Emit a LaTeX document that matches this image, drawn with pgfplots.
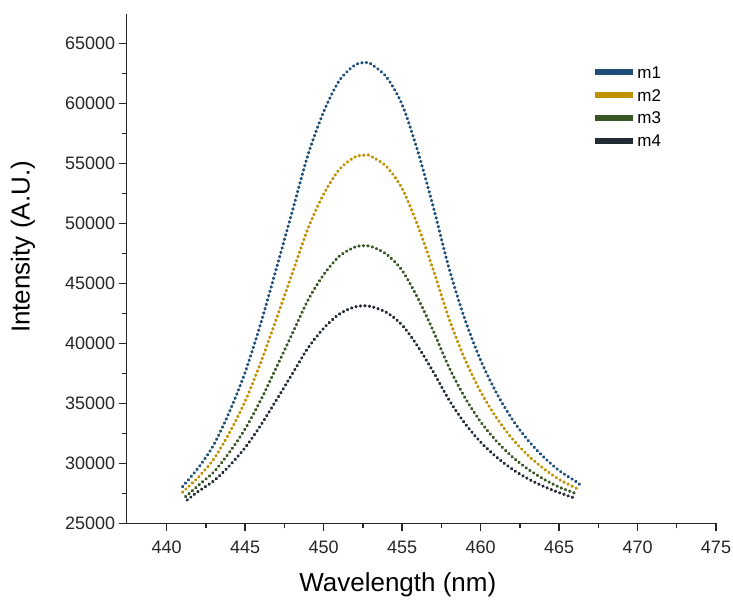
\documentclass[border=0pt]{standalone}
\usepackage{pgfplots}
\pgfplotsset{compat=1.18}
\usepackage{fontspec}
\setmainfont{Liberation Sans}

\definecolor{cA}{HTML}{1F4E79}
\definecolor{cB}{HTML}{BF9000}
\definecolor{cC}{HTML}{375623}
\definecolor{cD}{HTML}{222A35}

\tikzset{dotcurve/.style={line width=3.2bp, line cap=round, dash pattern=on 0.4bp off 4.1bp}}

\begin{document}
\begin{tikzpicture}
\begin{axis}[
  at={(0,0)}, anchor=south west,
  scale only axis, width=589.3bp, height=509.3bp,
  xmin=437.45, xmax=475, ymin=25000, ymax=67450,
  axis lines=left,
  axis line style={-, line width=1.4bp, color=black!85},
  xtick={440,445,...,475}, ytick={25000,30000,...,65000},
  minor x tick num=1, minor y tick num=1,
  tick align=outside, major tick length=8bp, minor tick length=5bp,
  tick style={line width=1.4bp, color=black!85},
  ticklabel style={font=\fontsize{18bp}{20bp}\selectfont, text=black!85},
  xticklabel style={yshift=-6bp},
  /pgf/number format/assume math mode=true,
  /pgf/number format/1000 sep={},
  scaled y ticks=false,
  xlabel={Wavelength (nm)}, ylabel={Intensity (A.U.)},
  every axis x label/.style={at={(axis description cs:0.46,-0.121)}, anchor=center,
    font=\fontsize{26bp}{30bp}\selectfont},
  every axis y label/.style={at={(axis description cs:-0.176,0.5425)}, anchor=center, rotate=90,
    font=\fontsize{26bp}{30bp}\selectfont},
  legend style={at={(axis description cs:0.79,0.90)}, anchor=north west,
    draw=none, fill=none, inner sep=0pt,
    font=\fontsize{17bp}{19bp}\selectfont,
    nodes={inner sep=1bp, text height=12bp, text depth=0bp},
    row sep=8.9bp,
    /tikz/every even column/.append style={column sep=3bp}},
  legend cell align=left,
  legend image code/.code={\draw[#1, solid, line width=6bp, line cap=butt] (0bp,0bp) -- (38bp,0bp);},
]
\addplot[cA, dotcurve, smooth] coordinates {
(441,28050) (442,29600) (443,31550) (444,34300) (445,37600) (446,41700)
(447,46300) (448,51000) (449,55700) (450,59300) (451,61900) (452,63200)
(452.7,63400) (453,63300) (454,62200) (455,59900) (456,56000) (457,51300)
(458,46200) (459,42000) (460,38600) (461,35900) (462,33700) (463,31950)
(464,30550) (465,29400) (466,28550) (466.3,28250)
};
\addlegendentry{m1}
\addplot[cB, dotcurve, smooth] coordinates {
(441,27585) (442,28820) (443,30370) (444,32555) (445,35180) (446,38440)
(447,42095) (448,45830) (449,49570) (450,52430) (451,54495) (452,55530)
(452.7,55690) (453,55610) (454,54735) (455,52905) (456,49805) (457,46070)
(458,42015) (459,38675) (460,35970) (461,33825) (462,32075) (463,30685)
(464,29575) (465,28660) (466,27985) (466.2,27850)
};
\addlegendentry{m2}
\addplot[cC, dotcurve, smooth] coordinates {
(441.2,27220) (442,28140) (443,29290) (444,30920) (445,32875) (446,35300)
(447,38025) (448,40805) (449,43590) (450,45720) (451,47260) (452,48030)
(452.7,48145) (453,48090) (454,47435) (455,46075) (456,43765) (457,40985)
(458,37965) (459,35480) (460,33465) (461,31865) (462,30565) (463,29530)
(464,28700) (465,28020) (466,27515) (466.1,27480)
};
\addlegendentry{m3}
\addplot[cD, dotcurve, smooth] coordinates {
(441.3,26940) (442,27650) (443,28540) (444,29800) (445,31315) (446,33190)
(447,35300) (448,37450) (449,39605) (450,41255) (451,42445) (452,43040)
(452.7,43130) (453,43085) (454,42580) (455,41525) (456,39740) (457,37590)
(458,35255) (459,33330) (460,31770) (461,30535) (462,29530) (463,28725)
(464,28085) (465,27560) (466,27100)
};
\addlegendentry{m4}
\end{axis}
\pgfresetboundingbox
\path (-126.7bp,-78.7bp) rectangle (606.3bp,523.3bp);
\end{tikzpicture}
\end{document}
